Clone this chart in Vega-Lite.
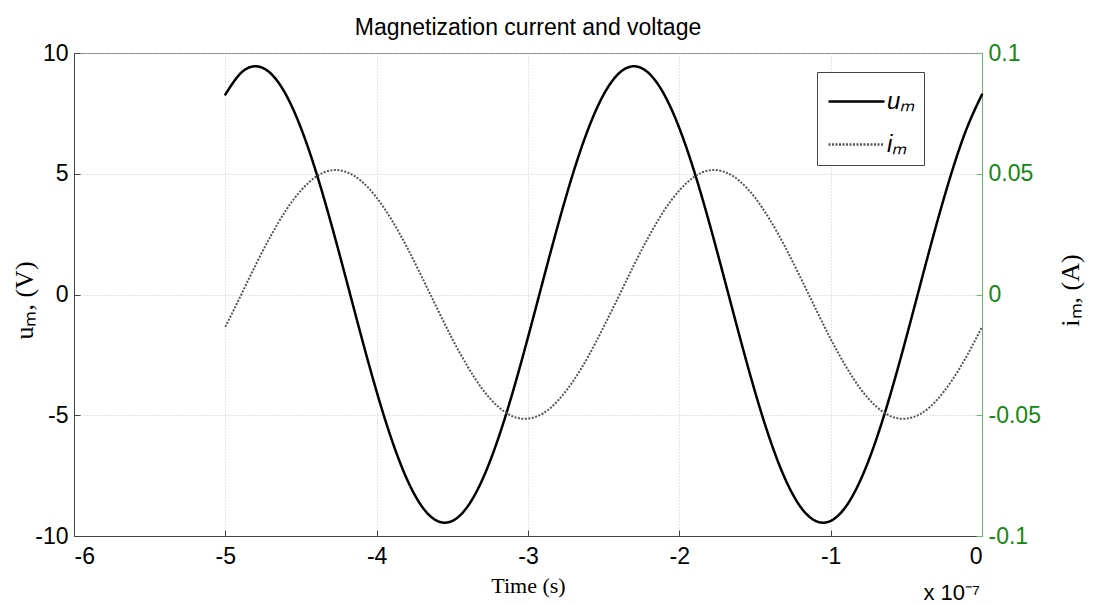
{
  "$schema": "https://vega.github.io/schema/vega-lite/v6.json",
  "width": 908,
  "height": 483,
  "autosize": {"type": "none"},
  "padding": {"left": 74, "top": 53, "right": 111, "bottom": 69},
  "background": "white",
  "title": {"text": "Magnetization current and voltage", "font": "Liberation Sans", "fontSize": 23, "fontWeight": "normal", "color": "black", "offset": 2, "anchor": "middle"},
  "data": {"values": [
    {"t": -5.0, "u": 8.281, "i": -0.0134},
    {"t": -4.9, "u": 9.153, "i": -0.0007},
    {"t": -4.8, "u": 9.45, "i": 0.0122},
    {"t": -4.7, "u": 9.153, "i": 0.0242},
    {"t": -4.6, "u": 8.281, "i": 0.0348},
    {"t": -4.5, "u": 6.889, "i": 0.0431},
    {"t": -4.4, "u": 5.063, "i": 0.0488},
    {"t": -4.3, "u": 2.920, "i": 0.0514},
    {"t": -4.2, "u": 0.593, "i": 0.0507},
    {"t": -4.1, "u": -1.771, "i": 0.0469},
    {"t": -4.0, "u": -4.024, "i": 0.0401},
    {"t": -3.9, "u": -6.023, "i": 0.0308},
    {"t": -3.8, "u": -7.645, "i": 0.0196},
    {"t": -3.7, "u": -8.787, "i": 0.0071},
    {"t": -3.6, "u": -9.375, "i": -0.0058},
    {"t": -3.5, "u": -9.375, "i": -0.0184},
    {"t": -3.4, "u": -8.787, "i": -0.0297},
    {"t": -3.3, "u": -7.645, "i": -0.0393},
    {"t": -3.2, "u": -6.023, "i": -0.0463},
    {"t": -3.1, "u": -4.024, "i": -0.0505},
    {"t": -3.0, "u": -1.771, "i": -0.0514},
    {"t": -2.9, "u": 0.593, "i": -0.0492},
    {"t": -2.8, "u": 2.920, "i": -0.0438},
    {"t": -2.7, "u": 5.063, "i": -0.0357},
    {"t": -2.6, "u": 6.889, "i": -0.0254},
    {"t": -2.5, "u": 8.281, "i": -0.0134},
    {"t": -2.4, "u": 9.153, "i": -0.0007},
    {"t": -2.3, "u": 9.45, "i": 0.0122},
    {"t": -2.2, "u": 9.153, "i": 0.0242},
    {"t": -2.1, "u": 8.281, "i": 0.0348},
    {"t": -2.0, "u": 6.889, "i": 0.0431},
    {"t": -1.9, "u": 5.063, "i": 0.0488},
    {"t": -1.8, "u": 2.920, "i": 0.0514},
    {"t": -1.7, "u": 0.593, "i": 0.0507},
    {"t": -1.6, "u": -1.771, "i": 0.0469},
    {"t": -1.5, "u": -4.024, "i": 0.0401},
    {"t": -1.4, "u": -6.023, "i": 0.0308},
    {"t": -1.3, "u": -7.645, "i": 0.0196},
    {"t": -1.2, "u": -8.787, "i": 0.0071},
    {"t": -1.1, "u": -9.375, "i": -0.0058},
    {"t": -1.0, "u": -9.375, "i": -0.0184},
    {"t": -0.9, "u": -8.787, "i": -0.0297},
    {"t": -0.8, "u": -7.645, "i": -0.0393},
    {"t": -0.7, "u": -6.023, "i": -0.0463},
    {"t": -0.6, "u": -4.024, "i": -0.0505},
    {"t": -0.5, "u": -1.771, "i": -0.0514},
    {"t": -0.4, "u": 0.593, "i": -0.0492},
    {"t": -0.3, "u": 2.920, "i": -0.0438},
    {"t": -0.2, "u": 5.063, "i": -0.0357},
    {"t": -0.1, "u": 6.889, "i": -0.0254},
    {"t": 0.0, "u": 8.281, "i": -0.0134}
  ]},
  "layer": [
    {
      "layer": [
        {
          "mark": {"type": "line", "strokeWidth": 2.5, "interpolate": "natural", "strokeCap": "round"},
          "encoding": {
            "x": {"field": "t", "type": "quantitative", "scale": {"domain": [-6, 0], "nice": false, "zero": false},
              "axis": {"values": [-6, -5, -4, -3, -2, -1, 0], "labelExpr": "'' + datum.value", "grid": true, "gridColor": "#c8c8c8", "gridDash": [1, 2], "ticks": true, "tickSize": -6, "labelPadding": 15, "title": "Time (s)", "titleFontSize": 22, "titleY": 56, "titleBaseline": "alphabetic"}},
            "y": {"field": "u", "type": "quantitative", "scale": {"domain": [-10, 10], "nice": false, "zero": false},
              "axis": {"values": [-10, -5, 0, 5, 10], "labelExpr": "'' + datum.value", "grid": true, "gridColor": "#c8c8c8", "gridDash": [1, 2], "ticks": true, "tickSize": -6, "labelPadding": 12, "title": "uₘ, (V)", "titleFontSize": 26, "titleX": -50, "titleY": 247, "titleAngle": -90, "titleAlign": "center", "titleBaseline": "middle"}},
            "color": {"datum": "uₘ", "type": "nominal", "scale": {"domain": ["uₘ", "iₘ"], "range": ["#000000", "#555555"]},
              "legend": {"title": null, "orient": "none", "legendX": 743, "legendY": 19, "strokeColor": "#444444", "fillColor": "white", "padding": 8, "symbolType": "M-1.4,0H1.4", "symbolSize": 1600, "symbolStrokeWidth": 2.5, "symbolOffset": 10, "labelFont": "Liberation Sans", "labelFontSize": 24, "labelFontStyle": "italic", "labelColor": "black", "labelOffset": 9, "rowPadding": 9}},
            "strokeDash": {"datum": "uₘ", "type": "nominal", "scale": {"domain": ["uₘ", "iₘ"], "range": [[1, 0], [2, 1.5]]},
              "legend": {"title": null, "orient": "none", "legendX": 743, "legendY": 19, "strokeColor": "#444444", "fillColor": "white", "padding": 8, "symbolType": "M-1.4,0H1.4", "symbolSize": 1600, "symbolStrokeWidth": 2.5, "symbolOffset": 10, "labelFont": "Liberation Sans", "labelFontSize": 24, "labelFontStyle": "italic", "labelColor": "black", "labelOffset": 9, "rowPadding": 9}}
          }
        },
        {
          "data": {"values": [{"t": 0, "u": -10, "label": "x 10⁻⁷"}]},
          "mark": {"type": "text", "align": "right", "baseline": "alphabetic", "dx": -2, "dy": 64, "font": "Liberation Sans", "fontSize": 22, "color": "black"},
          "encoding": {
            "x": {"field": "t", "type": "quantitative"},
            "y": {"field": "u", "type": "quantitative"},
            "text": {"field": "label"}
          }
        }
      ]
    },
    {
      "mark": {"type": "line", "strokeWidth": 2, "interpolate": "natural"},
      "encoding": {
        "x": {"field": "t", "type": "quantitative"},
        "y": {"field": "i", "type": "quantitative", "scale": {"domain": [-0.1, 0.1], "nice": false, "zero": false},
          "axis": {"orient": "right", "values": [-0.1, -0.05, 0, 0.05, 0.1], "labelExpr": "'' + datum.value", "grid": false, "ticks": true, "tickSize": -6, "tickColor": "#66bb66", "labelPadding": 12, "labelColor": "#118811", "domainColor": "#66bb66", "title": "iₘ, (A)", "titleFontSize": 26, "titleX": 88, "titleY": 237, "titleAngle": -90, "titleAlign": "center", "titleBaseline": "middle"}},
        "color": {"datum": "iₘ", "type": "nominal"},
        "strokeDash": {"datum": "iₘ", "type": "nominal"}
      }
    }
  ],
  "resolve": {"scale": {"y": "independent"}},
  "config": {
    "font": "Liberation Sans",
    "view": {"stroke": "#777777"},
    "axis": {"labelFont": "Liberation Sans", "labelFontSize": 23, "labelColor": "black", "titleFont": "Liberation Serif", "titleFontWeight": "normal", "titleColor": "black", "domainColor": "#444444", "tickColor": "#444444"}
  }
}
